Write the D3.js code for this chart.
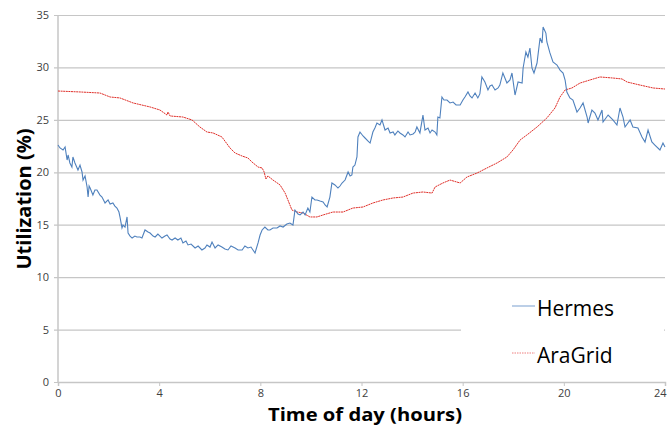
<!DOCTYPE html>
<html><head><meta charset="utf-8">
<script src="https://cdn.jsdelivr.net/npm/d3@7"></script>
<style>body{margin:0;background:#fff}svg{display:block}</style>
</head><body><svg id="c" width="667" height="426"></svg>
<script>
const xTicks = [0, 4, 8, 12, 16, 20, 24];
const yTicks = [0, 5, 10, 15, 20, 25, 30, 35];
const seriesNames = ["Hermes", "AraGrid"];
const hermesHours = [0.00,0.08,0.20,0.28,0.36,0.40,0.47,0.55,0.59,0.67,0.79,0.87,0.95,0.99,1.07,1.15,1.19,1.23,1.27,1.38,1.46,1.54,1.66,1.74,1.86,1.98,2.06,2.17,2.25,2.33,2.41,2.45,2.53,2.57,2.65,2.73,2.77,2.85,2.93,3.04,3.12,3.24,3.32,3.44,3.56,3.64,3.76,3.84,3.95,4.11,4.23,4.31,4.43,4.51,4.63,4.74,4.86,4.94,5.06,5.14,5.26,5.42,5.54,5.69,5.81,5.89,6.01,6.09,6.21,6.33,6.48,6.60,6.72,6.84,7.00,7.12,7.28,7.39,7.51,7.63,7.79,7.91,7.99,8.07,8.18,8.30,8.38,8.50,8.66,8.78,8.90,9.05,9.17,9.29,9.37,9.49,9.57,9.69,9.77,9.88,9.96,10.04,10.16,10.24,10.36,10.48,10.56,10.64,10.75,10.83,10.95,11.07,11.15,11.23,11.35,11.47,11.55,11.62,11.66,11.74,11.82,11.86,11.94,12.06,12.14,12.26,12.34,12.45,12.53,12.61,12.73,12.81,12.93,13.05,13.13,13.25,13.32,13.44,13.52,13.64,13.72,13.84,13.92,14.04,14.12,14.19,14.31,14.43,14.51,14.63,14.71,14.79,14.91,14.98,15.02,15.10,15.18,15.26,15.38,15.50,15.62,15.74,15.90,16.01,16.09,16.21,16.29,16.37,16.49,16.60,16.68,16.76,16.88,17.00,17.08,17.16,17.28,17.40,17.47,17.59,17.75,17.87,17.95,18.07,18.19,18.35,18.39,18.50,18.58,18.66,18.74,18.82,18.94,19.06,19.14,19.18,19.29,19.33,19.45,19.57,19.73,19.85,19.97,20.05,20.12,20.24,20.36,20.52,20.64,20.76,20.92,20.96,21.11,21.23,21.35,21.51,21.55,21.75,21.94,22.10,22.22,22.34,22.42,22.62,22.73,22.93,23.09,23.21,23.33,23.48,23.60,23.80,23.92,24.00];
const hermesValues = [22.60,22.32,22.13,22.41,21.17,21.65,20.89,20.50,21.46,20.89,20.22,20.69,20.03,19.26,19.65,18.60,17.64,18.69,18.50,17.83,18.31,18.31,17.83,17.64,17.07,17.36,16.98,17.07,16.78,16.59,16.21,15.74,14.69,14.97,14.78,15.74,14.21,13.92,13.73,13.92,13.83,13.83,13.73,14.50,14.31,14.21,13.92,13.83,14.11,13.73,13.92,14.02,13.64,13.54,13.73,13.54,13.73,13.26,13.45,13.07,13.16,12.78,12.97,12.59,12.78,13.07,12.87,13.35,12.78,13.07,12.87,12.68,12.59,12.97,12.78,12.59,12.59,12.97,12.78,12.87,12.30,13.26,14.02,14.50,14.78,14.50,14.50,14.69,14.69,14.88,14.78,15.07,15.16,14.97,16.40,16.02,15.93,16.21,15.93,16.59,16.21,17.64,17.36,17.36,17.26,17.17,16.88,16.69,17.64,18.98,18.79,18.50,18.69,18.98,19.26,20.03,19.65,19.74,20.50,20.69,21.46,23.37,23.84,23.46,23.27,22.98,22.79,23.84,24.22,24.70,24.51,24.99,24.03,24.22,23.75,23.84,23.56,23.94,23.75,23.56,23.37,23.84,23.56,23.65,23.84,24.32,23.75,25.46,24.03,24.22,23.75,24.03,23.84,23.56,25.27,25.18,27.18,26.89,26.89,26.61,26.70,26.42,26.42,26.89,27.18,27.66,27.28,27.09,27.56,27.09,27.47,29.09,28.61,27.85,28.23,28.32,27.85,28.04,28.32,29.47,28.52,28.80,29.47,27.37,28.61,28.52,29.95,31.47,30.99,31.85,29.95,29.47,30.42,32.81,32.33,33.86,33.28,32.43,31.38,30.52,30.23,29.75,29.47,28.80,27.66,27.09,26.89,25.75,26.13,26.61,25.27,24.70,25.94,25.65,24.99,25.94,24.80,25.46,24.99,24.51,26.13,25.27,24.32,24.99,24.32,24.22,23.37,22.89,24.03,22.89,22.60,22.13,22.79,22.41];
const araHours = [0.00,0.87,1.66,2.06,2.45,2.97,3.64,4.03,4.31,4.35,4.43,4.94,5.30,5.61,5.89,6.13,6.48,6.80,7.00,7.28,7.51,7.67,7.91,8.07,8.15,8.22,8.30,8.50,8.78,8.98,9.09,9.25,9.45,9.69,9.96,10.24,10.48,10.87,11.27,11.66,12.06,12.45,12.85,13.25,13.64,14.04,14.43,14.79,14.91,15.22,15.50,15.90,16.17,16.57,16.96,17.36,17.75,17.99,18.27,18.54,18.94,19.33,19.65,19.85,20.05,20.32,20.64,21.03,21.43,21.94,22.30,22.50,23.01,23.53,24.00];
const araValues = [27.75,27.66,27.56,27.18,27.09,26.61,26.23,25.94,25.46,25.75,25.37,25.27,24.99,24.32,23.84,23.75,23.37,22.32,21.84,21.55,21.36,20.98,20.50,20.41,20.03,19.36,19.65,19.26,18.79,18.02,17.36,16.40,16.21,16.12,15.74,15.74,15.93,16.21,16.21,16.59,16.69,17.07,17.36,17.55,17.64,18.02,18.12,18.02,18.60,18.98,19.26,18.98,19.55,19.93,20.41,20.89,21.46,22.13,23.08,23.56,24.32,25.18,26.13,27.18,27.85,28.04,28.51,28.80,29.09,28.99,28.90,28.61,28.32,28.04,27.94];

const svg = d3.select("#c");
const m = {l: 58, t: 15, r: 2, b: 44};
const W = 667 - m.l - m.r, H = 426 - m.t - m.b;
const x = d3.scaleLinear().domain([0, 24]).range([m.l, m.l + W]);
const y = d3.scaleLinear().domain([0, 35]).range([m.t + H, m.t]);
const font = "'Open Sans', 'Liberation Sans', sans-serif";
const gridC = "#c6c6c6";

const gy = svg.append("g").attr("transform", `translate(${m.l},0)`)
  .call(d3.axisLeft(y).tickValues(yTicks).tickSize(-W).tickPadding(9).tickFormat(d3.format("d")));
gy.select(".domain").remove();
gy.selectAll(".tick line").attr("stroke", gridC).attr("stroke-width", 1.2).attr("x1", -4);
gy.selectAll(".tick text").attr("font-family", font).attr("font-size", 11).attr("fill", "#404040");

svg.append("line").attr("x1", x(0)).attr("x2", x(0)).attr("y1", y(35)).attr("y2", y(0))
  .attr("stroke", gridC).attr("stroke-width", 1.5);

const gx = svg.append("g").attr("transform", `translate(0,${y(0)})`)
  .call(d3.axisBottom(x).tickValues(xTicks).tickSize(4).tickPadding(3).tickFormat(d3.format("d")));
gx.select(".domain").attr("stroke", gridC).attr("stroke-width", 1.5);
gx.selectAll(".tick line").attr("stroke", gridC);
gx.selectAll(".tick text").attr("font-family", font).attr("font-size", 11).attr("fill", "#404040");
gx.selectAll(".tick text").filter(d => d === 24).attr("text-anchor", "end").attr("dx", "1");

const hermes = hermesHours.map((h, i) => [h, hermesValues[i]]);
const ara = araHours.map((h, i) => [h, araValues[i]]);
const line = d3.line().x(d => x(d[0])).y(d => y(d[1]));

svg.append("path").datum(ara).attr("d", line).attr("fill", "none")
  .attr("stroke", "#e0302a").attr("stroke-width", 1).attr("stroke-dasharray", "2,0.6");
svg.append("path").datum(hermes).attr("d", line).attr("fill", "none")
  .attr("stroke", "#4f81bd").attr("stroke-width", 1.1);

const lg = svg.append("g");
lg.append("rect").attr("x", 461).attr("y", 286).attr("width", 203).attr("height", 92).attr("fill", "#fff");
const colors = ["#8fb0d8", "#f08080"];
seriesNames.forEach((n, i) => {
  const yy = 306 + i * 47;
  lg.append("line").attr("x1", 512).attr("x2", 535).attr("y1", yy).attr("y2", yy)
    .attr("stroke", colors[i]).attr("stroke-width", 1.2)
    .attr("stroke-dasharray", i === 1 ? "1.5,1" : null);
  lg.append("text").attr("x", 537).attr("y", yy + 10).text(n)
    .attr("font-family", font).attr("font-size", 21).attr("fill", "#000");
});

svg.append("text").attr("x", 365).attr("y", 420.5).attr("text-anchor", "middle")
  .attr("font-family", font).attr("font-weight", "bold").attr("font-size", 18.5)
  .attr("textLength", 194).attr("lengthAdjust", "spacingAndGlyphs").text("Time of day (hours)");
svg.append("text").attr("transform", "translate(31,199) rotate(-90)").attr("text-anchor", "middle")
  .attr("font-family", font).attr("font-weight", "bold").attr("font-size", 20).text("Utilization (%)");
</script></body></html>
